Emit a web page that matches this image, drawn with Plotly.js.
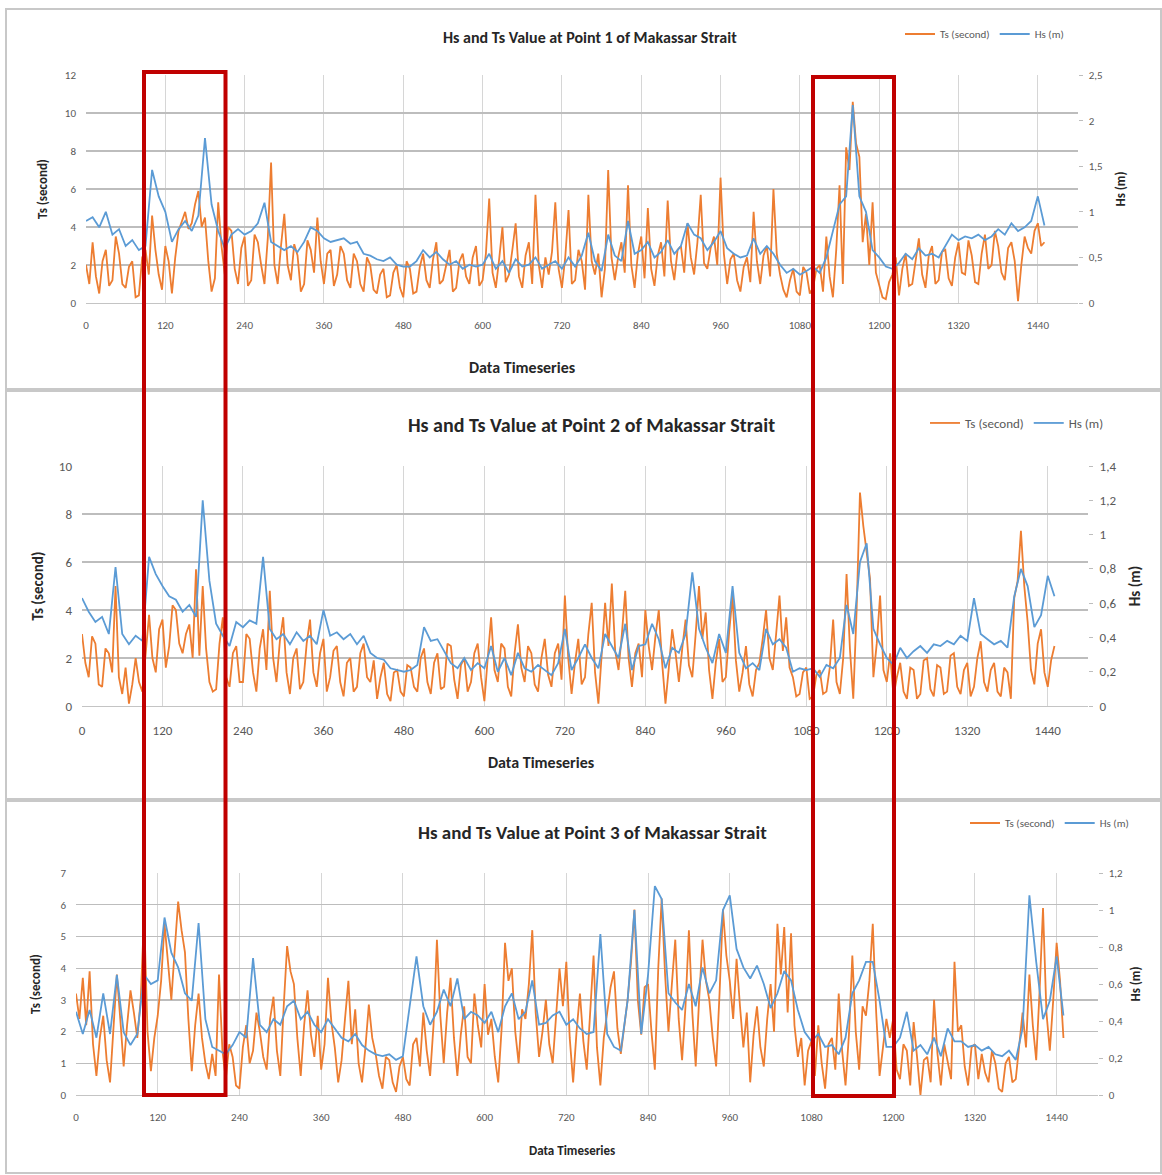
<!DOCTYPE html>
<html>
<head>
<meta charset="utf-8">
<script src="https://cdn.plot.ly/plotly-3.0.1.min.js"></script>
<style>html,body{margin:0;padding:0;background:#fff}#chart{width:1162px;height:1175px}</style>
</head>
<body>
<div id="chart"></div>
<script>
// ---- data ----
// Ts (orange) read every 5 steps, Hs (blue) read every 10 steps of the time series
const STEP_TS = 5;
const STEP_HS = 10;
const xTickVals = [0, 120, 240, 360, 480, 600, 720, 840, 960, 1080, 1200, 1320, 1440];

// Point 1
const p1Ts = [
  2.0, 1.0, 3.2, 1.4, 0.5, 2.2, 2.8, 0.9, 1.2, 3.5, 2.6, 1.0, 0.8, 1.9, 2.2, 0.3, 0.4, 2.4, 2.8, 1.5,
  4.6, 2.8, 1.5, 0.7, 3.0, 2.2, 0.5, 2.4, 3.8, 4.3, 4.8, 3.9, 4.2, 5.2, 5.9, 4.0, 4.5, 2.2, 0.6, 1.3,
  5.3, 3.0, 1.5, 4.0, 3.8, 1.8, 1.0, 2.9, 3.5, 0.9, 1.2, 3.6, 3.2, 2.0, 1.0, 3.4, 7.4, 2.0, 1.0, 3.0,
  4.7, 2.0, 1.2, 3.1, 2.5, 0.6, 1.0, 3.3, 2.8, 1.6, 4.5, 2.2, 1.0, 2.6, 2.8, 0.9, 1.5, 3.0, 2.6, 1.2,
  0.8, 2.6, 2.2, 1.0, 0.6, 2.4, 2.0, 0.7, 0.5, 1.5, 1.8, 0.3, 0.4, 1.6, 2.0, 0.8, 0.3, 2.2, 1.8, 0.5,
  0.6, 1.9, 2.6, 1.2, 0.8, 2.3, 3.2, 1.0, 1.2, 2.0, 2.8, 0.6, 0.8, 2.2, 2.6, 1.4, 1.0, 2.4, 3.0, 0.9,
  1.2, 2.6, 5.5, 1.6, 0.8, 2.3, 4.0, 1.1, 1.5, 2.8, 4.2, 1.4, 0.8, 2.5, 3.2, 1.0, 5.7, 2.0, 0.8, 2.4,
  1.5, 2.7, 5.3, 1.8, 0.8, 2.4, 4.9, 1.0, 1.2, 2.8, 2.2, 0.7, 5.7, 2.2, 1.5, 2.6, 0.3, 1.8, 7.0, 2.4,
  1.2, 2.4, 3.2, 1.6, 6.2, 2.0, 0.8, 2.6, 3.5, 1.3, 5.0, 1.8, 0.9, 2.5, 3.2, 1.4, 5.4, 2.2, 1.2, 2.8,
  3.0, 1.6, 4.2, 2.4, 1.5, 3.2, 5.7, 2.1, 1.8, 2.9, 3.5, 2.0, 6.6, 2.6, 1.0, 2.3, 2.6, 1.2, 0.6, 1.9,
  2.4, 1.1, 4.8, 2.2, 1.0, 2.5, 3.0, 1.4, 6.0, 2.6, 1.5, 0.7, 0.3, 1.2, 1.8, 0.6, 0.4, 1.9, 1.6, 0.5,
  0.8, 1.8, 2.0, 0.6, 3.5, 1.4, 0.3, 2.8, 6.2, 1.0, 8.2, 7.0, 10.6, 8.4, 7.7, 3.2, 4.7, 2.0, 5.3, 1.6,
  1.0, 0.3, 0.2, 1.1, 1.5, 2.4, 0.4, 1.8, 2.6, 0.9, 1.0, 2.2, 3.4, 1.5, 0.8, 2.5, 3.0, 1.0, 1.2, 2.7,
  2.8, 1.3, 0.9, 2.4, 3.2, 1.6, 1.5, 3.3, 2.5, 1.1, 1.0, 2.6, 3.6, 1.8, 2.0, 3.8, 3.0, 1.6, 1.2, 2.9,
  3.2, 2.2, 0.1, 2.0, 3.5, 2.9, 2.6, 3.8, 4.2, 3.0, 3.2
];
const p1Hs = [
  0.90, 0.94, 0.83, 1.00, 0.75, 0.81, 0.625, 0.69, 0.58, 0.625,
  1.46, 1.17, 1.00, 0.67, 0.81, 0.90, 0.79, 0.96, 1.81, 1.08,
  0.79, 0.60, 0.75, 0.81, 0.75, 0.79, 0.875, 1.10, 0.67, 0.625,
  0.58, 0.625, 0.56, 0.67, 0.83, 0.79, 0.71, 0.67, 0.69, 0.71,
  0.65, 0.67, 0.54, 0.52, 0.48, 0.46, 0.50, 0.42, 0.40, 0.40,
  0.46, 0.58, 0.50, 0.56, 0.48, 0.42, 0.46, 0.375, 0.42, 0.40,
  0.42, 0.54, 0.375, 0.46, 0.33, 0.48, 0.40, 0.42, 0.50, 0.375,
  0.42, 0.46, 0.375, 0.50, 0.40, 0.52, 0.77, 0.46, 0.35, 0.75,
  0.52, 0.46, 0.90, 0.54, 0.58, 0.67, 0.50, 0.56, 0.69, 0.54,
  0.625, 0.875, 0.75, 0.71, 0.58, 0.67, 0.79, 0.60, 0.54, 0.50,
  0.52, 0.71, 0.54, 0.625, 0.54, 0.42, 0.33, 0.375, 0.31, 0.35,
  0.40, 0.33, 0.50, 0.79, 1.08, 1.17, 2.17, 1.17, 1.00, 0.58,
  0.50, 0.40, 0.375, 0.44, 0.54, 0.48, 0.60, 0.52, 0.54, 0.50,
  0.625, 0.75, 0.69, 0.73, 0.71, 0.75, 0.69, 0.73, 0.81, 0.75,
  0.875, 0.79, 0.83, 0.90, 1.17, 0.85
];

// Point 2
const p2Ts = [
  3.0, 1.8, 1.2, 2.9, 2.6, 0.9, 0.8, 2.4, 2.2, 1.4, 5.0, 1.2, 0.5, 1.6, 0.1, 0.9, 2.0, 1.0, 0.6, 2.2,
  3.8, 2.0, 1.4, 3.2, 3.6, 1.6, 2.5, 4.2, 4.0, 2.6, 2.2, 3.0, 3.4, 2.0, 5.7, 2.1, 5.0, 2.4, 1.0, 0.6,
  0.7, 2.6, 3.7, 1.2, 0.8, 2.2, 2.5, 1.0, 1.0, 3.0, 2.8, 1.4, 0.6, 2.4, 3.2, 1.5, 4.8, 2.0, 1.0, 2.7,
  3.7, 1.4, 0.5, 2.0, 2.4, 0.7, 1.0, 2.6, 3.6, 1.4, 0.8, 2.2, 2.8, 0.6, 1.2, 2.3, 2.5, 1.0, 0.4, 1.8,
  2.0, 0.6, 0.8, 2.2, 2.6, 1.2, 1.0, 1.9, 0.3, 1.2, 1.8, 0.5, 0.2, 1.4, 1.5, 0.6, 0.4, 1.7, 1.6, 0.8,
  0.6, 2.0, 2.4, 1.0, 0.5, 1.8, 2.2, 0.7, 0.8, 2.6, 2.5, 1.1, 0.3, 1.7, 2.0, 0.6, 1.0, 2.2, 2.6, 1.2,
  0.2, 2.0, 3.7, 1.5, 1.0, 2.6, 2.4, 0.8, 0.4, 2.2, 3.4, 1.6, 1.0, 2.5, 2.2, 0.9, 0.6, 2.0, 2.8, 1.3,
  0.8, 2.2, 2.6, 1.1, 4.6, 2.0, 0.5, 1.8, 2.8, 0.9, 1.2, 3.0, 4.3, 1.4, 0.1, 2.2, 4.3, 2.5, 5.1, 2.3,
  1.5, 3.0, 4.8, 2.0, 0.8, 2.2, 2.6, 1.2, 4.0, 2.5, 1.5, 2.9, 4.0, 1.8, 0.1, 1.6, 3.2, 2.2, 1.0, 2.4,
  3.6, 1.7, 1.2, 3.0, 5.0, 2.8, 3.9, 1.5, 0.3, 1.8, 2.8, 1.0, 1.2, 3.1, 4.6, 1.9, 0.6, 1.4, 2.5, 0.9,
  0.4, 1.5, 1.8, 2.8, 4.0, 2.0, 1.5, 3.0, 4.6, 2.3, 3.7, 1.6, 1.2, 0.4, 0.5, 1.4, 1.6, 0.3, 0.4, 1.3,
  1.5, 0.5, 0.6, 1.6, 3.6, 1.0, 0.5, 2.0, 5.5, 2.4, 0.3, 4.0, 8.9, 7.5, 6.5, 5.3, 1.2, 2.6, 4.6, 1.5,
  1.0, 2.2, 0.4, 1.2, 1.8, 0.6, 0.3, 1.6, 1.5, 0.3, 0.5, 1.9, 2.0, 0.7, 0.4, 1.7, 1.6, 0.5, 0.6, 2.1,
  2.2, 0.8, 0.5, 1.5, 1.8, 0.4, 0.8, 2.0, 2.7, 1.0, 0.6, 1.5, 1.8, 0.6, 0.4, 1.6, 1.4, 0.3, 4.5, 5.2,
  7.3, 5.0, 3.5, 1.5, 0.9, 2.6, 3.2, 1.4, 0.8, 1.9, 2.5
];
const p2Hs = [
  0.63, 0.55, 0.49, 0.52, 0.42, 0.81, 0.42, 0.36, 0.41, 0.38,
  0.87, 0.77, 0.70, 0.64, 0.62, 0.55, 0.59, 0.52, 1.20, 0.73,
  0.48, 0.41, 0.35, 0.49, 0.46, 0.50, 0.48, 0.87, 0.45, 0.39,
  0.42, 0.36, 0.43, 0.38, 0.41, 0.36, 0.56, 0.41, 0.43, 0.39,
  0.42, 0.36, 0.41, 0.31, 0.28, 0.27, 0.22, 0.21, 0.20, 0.21,
  0.24, 0.46, 0.38, 0.39, 0.32, 0.25, 0.22, 0.28, 0.21, 0.25,
  0.22, 0.35, 0.20, 0.28, 0.18, 0.31, 0.22, 0.20, 0.24, 0.21,
  0.18, 0.25, 0.45, 0.21, 0.28, 0.36, 0.28, 0.22, 0.42, 0.35,
  0.28, 0.48, 0.21, 0.35, 0.36, 0.48, 0.39, 0.22, 0.34, 0.31,
  0.42, 0.78, 0.45, 0.34, 0.25, 0.42, 0.31, 0.70, 0.31, 0.22,
  0.25, 0.21, 0.45, 0.36, 0.39, 0.34, 0.20, 0.22, 0.21, 0.22,
  0.17, 0.24, 0.22, 0.28, 0.59, 0.42, 0.84, 0.95, 0.45, 0.36,
  0.28, 0.24, 0.34, 0.28, 0.32, 0.35, 0.31, 0.36, 0.35, 0.38,
  0.36, 0.41, 0.38, 0.63, 0.42, 0.39, 0.36, 0.38, 0.34, 0.64,
  0.80, 0.70, 0.46, 0.53, 0.76, 0.64
];

// Point 3
const p3Ts = [
  3.2, 2.4, 3.7, 2.2, 3.9, 1.6, 0.6, 1.8, 2.5, 1.1, 0.4, 2.0, 3.8, 2.4, 0.9, 2.2, 3.3, 2.6, 1.8, 3.0,
  5.7, 2.0, 0.75, 1.8, 2.5, 3.6, 5.4, 4.2, 3.0, 4.6, 6.1, 5.2, 4.5, 2.4, 0.75, 2.2, 3.2, 1.8, 1.0, 0.5,
  1.3, 0.6, 3.8, 1.4, 0.5, 1.6, 1.2, 0.3, 0.2, 1.5, 2.2, 1.0, 1.4, 2.6, 2.0, 1.2, 0.8, 2.4, 3.1, 1.4,
  0.6, 2.8, 4.7, 3.9, 3.5, 1.8, 0.6, 2.2, 3.3, 1.9, 1.2, 2.5, 0.8, 1.6, 3.7, 2.3, 1.5, 0.4, 1.1, 2.4,
  3.6, 1.6, 2.7, 1.0, 0.4, 1.5, 2.85, 1.8, 1.3, 0.6, 0.2, 1.2, 1.1, 0.4, 0.1, 0.9, 1.2, 0.5, 0.3, 1.6,
  1.8, 0.9, 2.6, 1.4, 0.6, 2.2, 4.9, 2.5, 1.0, 2.6, 3.7, 1.8, 0.6, 1.9, 2.8, 1.2, 1.0, 3.2, 2.2, 1.5,
  3.5, 1.9, 2.4, 1.2, 0.4, 2.1, 4.8, 3.6, 4.0, 2.0, 1.0, 2.7, 2.4, 3.5, 5.2, 2.6, 1.2, 2.0, 3.0, 1.6,
  1.0, 2.5, 4.0, 2.8, 4.2, 1.8, 0.4, 2.0, 3.2, 1.7, 0.8, 2.6, 4.4, 1.5, 0.3, 1.8, 2.6, 3.4, 3.9, 2.1,
  1.3, 2.2, 3.0, 4.2, 5.85, 3.0, 1.9, 3.4, 3.5, 2.0, 0.8, 4.0, 6.2, 3.8, 2.0, 3.5, 4.9, 2.4, 1.1, 2.8,
  5.2, 2.6, 0.9, 3.0, 4.9, 3.6, 3.0, 1.8, 0.9, 3.2, 5.85, 4.4, 3.6, 2.4, 4.3, 2.8, 1.5, 2.6, 0.4, 1.9,
  2.8, 1.5, 0.9, 2.4, 3.5, 2.0, 5.4, 3.8, 5.3, 2.6, 5.1, 2.2, 1.2, 1.8, 0.3, 1.4, 1.7, 0.6, 2.2, 1.0,
  0.2, 1.6, 1.8, 0.8, 3.2, 1.4, 0.3, 1.9, 4.4, 2.0, 0.8, 2.8, 2.5, 3.6, 5.4, 2.6, 0.6, 1.5, 2.4, 1.8,
  2.4, 0.8, 0.5, 1.6, 1.4, 0.3, 2.3, 1.2, 0.0, 1.1, 1.2, 0.4, 3.0, 1.3, 0.3, 1.6, 1.1, 0.5, 4.2, 2.0,
  2.2, 0.9, 0.3, 1.5, 1.6, 0.5, 1.3, 0.7, 0.4, 1.4, 1.0, 0.2, 0.1, 1.0, 1.2, 0.4, 0.5, 1.6, 2.6, 1.5,
  3.8, 2.2, 1.1, 3.3, 5.9, 2.6, 1.4, 3.0, 4.8, 3.6, 1.8
];
const p3Hs = [
  0.45, 0.33, 0.46, 0.31, 0.55, 0.33, 0.65, 0.34, 0.27, 0.33,
  0.65, 0.60, 0.62, 0.96, 0.77, 0.69, 0.55, 0.51, 0.93, 0.41,
  0.26, 0.24, 0.22, 0.27, 0.34, 0.31, 0.74, 0.38, 0.34, 0.41,
  0.38, 0.48, 0.51, 0.41, 0.45, 0.38, 0.34, 0.41, 0.36, 0.31,
  0.29, 0.33, 0.27, 0.24, 0.22, 0.21, 0.22, 0.19, 0.21, 0.49,
  0.75, 0.48, 0.38, 0.45, 0.57, 0.48, 0.63, 0.41, 0.45, 0.43,
  0.39, 0.45, 0.34, 0.48, 0.55, 0.41, 0.45, 0.62, 0.38, 0.39,
  0.43, 0.45, 0.38, 0.41, 0.36, 0.33, 0.34, 0.87, 0.33, 0.26,
  0.24, 0.51, 1.00, 0.33, 0.65, 1.13, 1.06, 0.55, 0.50, 0.46,
  0.60, 0.48, 0.69, 0.55, 0.62, 1.00, 1.08, 0.79, 0.69, 0.63,
  0.70, 0.60, 0.47, 0.55, 0.67, 0.62, 0.46, 0.34, 0.29, 0.33,
  0.26, 0.27, 0.22, 0.31, 0.55, 0.62, 0.72, 0.72, 0.51, 0.26,
  0.26, 0.31, 0.45, 0.24, 0.27, 0.22, 0.31, 0.21, 0.36, 0.29,
  0.29, 0.26, 0.27, 0.24, 0.26, 0.22, 0.21, 0.24, 0.19, 0.36,
  1.08, 0.72, 0.41, 0.51, 0.75, 0.43
];

const panelTitles = [
  'Hs and Ts Value at Point 1 of Makassar Strait',
  'Hs and Ts Value at Point 2 of Makassar Strait',
  'Hs and Ts Value at Point 3 of Makassar Strait'
];
const xTitle = 'Data Timeseries';
const tsName = 'Ts (second)';
const hsName = 'Hs (m)';

// ---- styling / layout ----
const W = 1162, H = 1175;
const px = v => v / W;          // pixel x -> paper
const py = v => 1 - v / H;      // pixel y -> paper
const FONT = "Carlito, Lato, 'Open Sans', sans-serif";
const ORANGE = '#ED7D31', BLUE = '#5B9BD5';
const TICKC = '#595959', TITLEC = '#262626';

const xTs = p1Ts.map((_, i) => i * STEP_TS);
const xHs = p1Hs.map((_, i) => i * STEP_HS);

function lineTrace(x, y, name, color, xa, ya, leg) {
  return {type: 'scatter', mode: 'lines', x: x, y: y, name: name,
    xaxis: xa, yaxis: ya, legend: leg,
    line: {color: color, width: 1.8}, hoverinfo: 'skip'};
}

const traces = [
  lineTrace(xTs, p1Ts, tsName, ORANGE, 'x', 'y', 'legend'),
  lineTrace(xHs, p1Hs, hsName, BLUE, 'x', 'y2', 'legend'),
  lineTrace(xTs, p2Ts, tsName, ORANGE, 'x2', 'y3', 'legend2'),
  lineTrace(xHs, p2Hs, hsName, BLUE, 'x2', 'y4', 'legend2'),
  lineTrace(xTs, p3Ts, tsName, ORANGE, 'x3', 'y5', 'legend3'),
  lineTrace(xHs, p3Hs, hsName, BLUE, 'x3', 'y6', 'legend3')
];

function xAx(l, r, anchor, fs) {
  return {domain: [px(l), px(r)], range: [0, 1500], anchor: anchor,
    tickvals: xTickVals, showgrid: true, gridcolor: '#d6d6d6', gridwidth: 1,
    zeroline: false, showline: true, linecolor: '#c4c4c4', linewidth: 1,
    ticks: '', ticklabelstandoff: 12, tickfont: {family: FONT, size: fs, color: TICKC},
    fixedrange: true};
}
function yLeft(top, bot, anchor, maxv, dt, fs, tfs, stand) {
  return {domain: [py(bot), py(top)], range: [0, maxv * 1.0005], dtick: dt, tick0: 0, anchor: anchor,
    showgrid: true, gridcolor: '#bdbdbd', gridwidth: 1.2, zeroline: false, showline: false,
    ticks: '', ticklabelstandoff: 9, tickfont: {family: FONT, size: fs, color: TICKC},
    title: {text: '<b>' + tsName + '</b>', font: {family: FONT, size: tfs, color: TITLEC}, standoff: stand},
    fixedrange: true};
}
function yRight(over, anchor, maxv, dt, fs, tfs, stand) {
  return {overlaying: over, side: 'right', anchor: anchor, range: [0, maxv * 1.0005], dtick: dt, tick0: 0,
    showgrid: false, zeroline: false, showline: false,
    ticks: 'outside', ticklen: 4, tickcolor: '#bdbdbd', ticklabelstandoff: 4,
    tickfont: {family: FONT, size: fs, color: TICKC},
    title: {text: '<b>' + hsName + '</b>', font: {family: FONT, size: tfs, color: TITLEC}, standoff: stand},
    fixedrange: true};
}
function legendAt(xp, yp, fs) {
  return {orientation: 'h', x: px(xp), y: py(yp), xanchor: 'left', yanchor: 'middle',
    font: {family: FONT, size: fs, color: TICKC}, bgcolor: 'rgba(0,0,0,0)', itemwidth: 30};
}
function ann(text, xp, yp, fs, angle) {
  return {text: '<b>' + text + '</b>', xref: 'paper', yref: 'paper', x: px(xp), y: py(yp),
    xanchor: 'center', yanchor: 'middle', showarrow: false, textangle: angle || 0,
    font: {family: FONT, size: fs, color: TITLEC}};
}
function frame(x0, y0, x1, y1) {
  return {type: 'rect', xref: 'paper', yref: 'paper', x0: px(x0), x1: px(x1), y0: py(y0), y1: py(y1),
    line: {color: '#c8c8c8', width: 2}, fillcolor: 'rgba(0,0,0,0)', layer: 'below'};
}
function redBox(x0, y0, x1, y1) {
  return {type: 'rect', xref: 'paper', yref: 'paper', x0: px(x0), x1: px(x1), y0: py(y0), y1: py(y1),
    line: {color: '#C00000', width: 4}, fillcolor: 'rgba(0,0,0,0)', layer: 'above'};
}

const layout = {
  width: W, height: H, margin: {l: 0, r: 0, t: 0, b: 0},
  paper_bgcolor: '#ffffff', plot_bgcolor: 'rgba(0,0,0,0)',
  separators: ', ', showlegend: true,
  font: {family: FONT, color: TICKC},
  xaxis: xAx(86, 1077.5, 'y', 11),
  yaxis: yLeft(75, 303, 'x', 12, 2, 11, 13, 14),
  yaxis2: yRight('y', 'x', 2.5, 0.5, 11, 13, 14),
  xaxis2: xAx(82, 1088, 'y3', 13),
  yaxis3: yLeft(466, 706, 'x2', 10, 2, 13, 15, 11),
  yaxis4: yRight('y3', 'x2', 1.4, 0.2, 13, 15, 14),
  xaxis3: xAx(76, 1097.5, 'y5', 11),
  yaxis5: yLeft(873, 1095, 'x3', 7, 1, 11, 13, 16),
  yaxis6: yRight('y5', 'x3', 1.2, 0.2, 11, 13, 8),
  legend: legendAt(900, 34, 11),
  legend2: legendAt(925, 423, 13),
  legend3: legendAt(965, 823, 11),
  annotations: [
    ann(panelTitles[0], 590, 38, 16),
    ann(panelTitles[1], 591, 425, 20),
    ann(panelTitles[2], 592, 832, 19),
    ann(xTitle, 522, 368, 16),
    ann(xTitle, 541, 762, 16),
    ann(xTitle, 572, 1150, 13)
  ],
  shapes: [
    frame(6, 9, 1161, 389),
    frame(6, 391, 1161, 799),
    frame(6, 801, 1161, 1173),
    redBox(144, 72, 225.5, 1095),
    redBox(813, 77, 894, 1096)
  ]
};

Plotly.newPlot('chart', traces, layout, {staticPlot: true, displayModeBar: false});
</script>
</body>
</html>
